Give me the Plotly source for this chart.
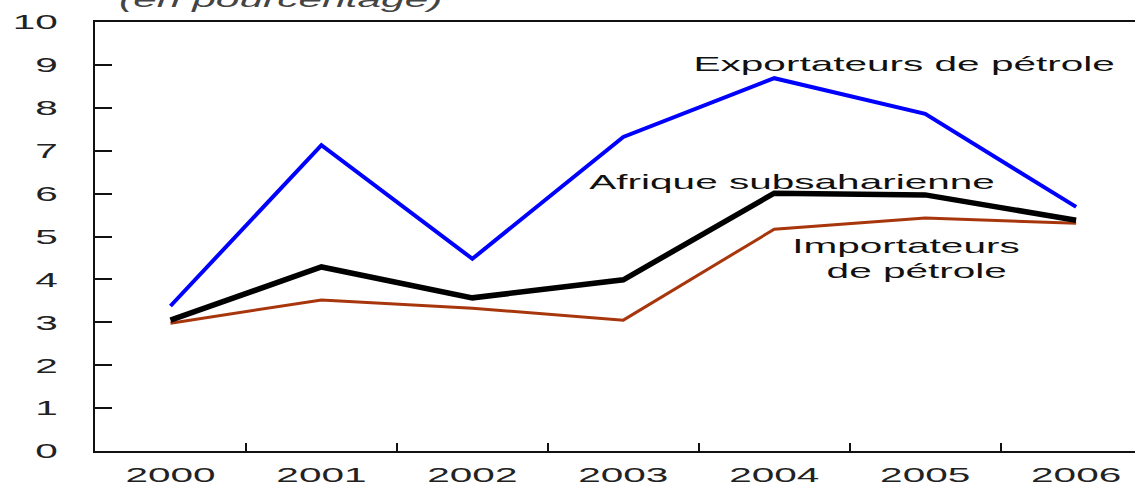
import plotly.graph_objects as go

# Croissance du PIB réel (en pourcentage), 2000-2006
years = ["2000", "2001", "2002", "2003", "2004", "2005", "2006"]
exportateurs = [3.38, 7.13, 4.48, 7.32, 8.69, 7.86, 5.69]
afrique = [3.05, 4.29, 3.57, 3.99, 6.01, 5.97, 5.38]
importateurs = [2.98, 3.52, 3.33, 3.05, 5.17, 5.43, 5.31]
y_ticks = list(range(0, 11))

FONT = "Liberation Sans"
BLUE = "#0000ff"
BLACK = "#000000"
BROWN = "#a8360c"

fig = go.Figure()
fig.add_trace(go.Scatter(x=years, y=importateurs, mode="lines",
                         line=dict(color=BROWN, width=3), name="Importateurs de pétrole"))
fig.add_trace(go.Scatter(x=years, y=exportateurs, mode="lines",
                         line=dict(color=BLUE, width=4), name="Exportateurs de pétrole"))
fig.add_trace(go.Scatter(x=years, y=afrique, mode="lines",
                         line=dict(color=BLACK, width=5.5), name="Afrique subsaharienne"))

label_font = dict(family=FONT, size=21, color="#111111")
annotations = [
    dict(x=4.86, y=9.04, text="Exportateurs de pétrole"),
    dict(x=4.12, y=6.29, text="Afrique subsaharienne"),
    dict(x=4.87, y=4.78, text="Importateurs"),
    dict(x=4.94, y=4.20, text="de pétrole"),
]
for a in annotations:
    fig.add_annotation(x=a["x"], y=a["y"], xref="x", yref="y", text=a["text"],
                       showarrow=False, font=label_font)

fig.add_annotation(x=0.021, y=1, xref="paper", yref="paper", xanchor="left",
                   yanchor="bottom", align="left", yshift=8, showarrow=False,
                   text="(en pourcentage)",
                   font=dict(family=FONT, size=22, color="#444444", style="italic"))

fig.update_layout(
    width=1135, height=485,
    margin=dict(l=95, r=0, t=22, b=34, autoexpand=False),
    paper_bgcolor="white", plot_bgcolor="white",
    showlegend=False,
    font=dict(family=FONT, size=21, color="#222222"),
)
fig.update_xaxes(
    type="category", range=[-0.5, 6.39], showgrid=False, zeroline=False,
    showline=True, linecolor="#111111", linewidth=2, mirror=True,
    ticks="inside", tickson="boundaries", ticklen=8, tickwidth=2, tickcolor="#111111",
    ticklabelstandoff=4, automargin=False,
    tickfont=dict(family=FONT, size=21, color="#222222"),
)
fig.update_yaxes(
    range=[0, 10], tickvals=y_ticks, showgrid=False, zeroline=False,
    showline=True, linecolor="#111111", linewidth=2,
    ticks="inside", ticklen=17, tickwidth=2, tickcolor="#111111",
    ticklabelstandoff=31, automargin=False,
    tickfont=dict(family=FONT, size=21, color="#222222"),
)

# Wide lettering: stretch every text run horizontally once drawn
post = """
var gd = document.getElementById('{plot_id}');
var SX = 1.93;
function stretchText(){
  gd.querySelectorAll('text').forEach(function(t){
    if (t.getAttribute('data-w0')) return;
    var w = t.getComputedTextLength();
    if (!w) return;
    t.setAttribute('data-w0', w);
    t.setAttribute('textLength', (w * SX).toFixed(2));
    t.setAttribute('lengthAdjust', 'spacingAndGlyphs');
  });
}
stretchText();
gd.on('plotly_afterplot', stretchText);
"""

fig.write_html("out.html", post_script=post)
